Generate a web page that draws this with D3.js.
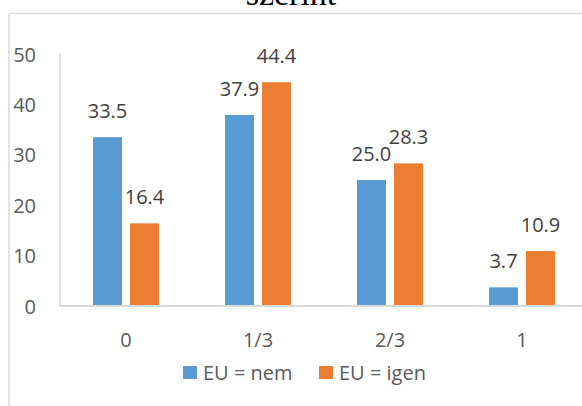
<!DOCTYPE html>
<html>
<head>
<meta charset="utf-8">
<script src="https://cdn.jsdelivr.net/npm/d3@7/dist/d3.min.js"></script>
<style>
  html, body { margin: 0; padding: 0; background: #fff; }
  svg { display: block; }
  text { font-family: "Open Sans", "Noto Sans", sans-serif; }
</style>
</head>
<body>
<svg id="chart" width="582" height="406"></svg>
<script>
// Categories along the x axis
const categories = ["0", "1/3", "2/3", "1"];
// Series
const seriesNames = ["EU = nem", "EU = igen"];
const seriesColors = ["#5B9BD5", "#ED7D31"];
const euNem = [33.5, 37.9, 25.0, 3.7];
const euIgen = [16.4, 44.4, 28.3, 10.9];
// Y axis ticks
const yTicks = [0, 10, 20, 30, 40, 50];
const titleText = "szerint";

const svg = d3.select("#chart");
const W = 582, H = 406;

// Chart frame (only top and left edges fall inside the view)
svg.append("line").attr("x1", 9).attr("x2", W).attr("y1", 13.5).attr("y2", 13.5)
  .attr("stroke", "#d9d9d9").attr("stroke-width", 1.5);
svg.append("line").attr("x1", 9).attr("x2", 9).attr("y1", 13.5).attr("y2", H)
  .attr("stroke", "#d9d9d9").attr("stroke-width", 1.5);

// Title, mostly above the top edge
svg.append("text").attr("x", 291).attr("y", 5)
  .attr("text-anchor", "middle")
  .style("font-family", "'Liberation Serif', 'DejaVu Serif', serif")
  .style("font-size", "34px").attr("fill", "#000")
  .text(titleText);

const plotLeft = 60, plotBottom = 306;
const y = d3.scaleLinear().domain([0, 50]).range([plotBottom, 54]);
const x0 = d3.scaleBand().domain(categories).range([plotLeft, plotLeft + 4 * 132]).paddingInner(0).paddingOuter(0);
const groupW = 66;
const x1 = d3.scaleBand().domain(seriesNames).range([0, groupW]).paddingInner(2 - groupW / 37).paddingOuter(0);

const seriesValues = [euNem, euIgen];

// Bars with value labels
seriesValues.forEach((vals, si) => {
  const g = svg.append("g");
  const bx = (i) => x0(categories[i]) + (x0.bandwidth() - groupW) / 2 + x1(seriesNames[si]);
  g.selectAll("rect").data(vals).join("rect")
    .attr("x", (d, i) => bx(i))
    .attr("y", d => y(d))
    .attr("width", x1.bandwidth())
    .attr("height", d => y(0) - y(d))
    .attr("fill", seriesColors[si]);
  g.selectAll("text").data(vals).join("text")
    .attr("x", (d, i) => bx(i) + x1.bandwidth() / 2)
    .attr("y", d => y(d) - 19)
    .attr("text-anchor", "middle")
    .style("font-size", "20px").attr("fill", "#404040")
    .text(d => d.toFixed(1));
});

// Y axis
const yAxis = d3.axisLeft(y).tickValues(yTicks).tickSize(0).tickPadding(24);
const gy = svg.append("g").attr("transform", `translate(${plotLeft},0)`).call(yAxis);
gy.select(".domain").attr("stroke", "#d9d9d9").attr("stroke-width", 1.5)
  .attr("d", `M0,${y(50) - 1}V${plotBottom}`);
gy.selectAll(".tick text").style("font-size", "20px").attr("fill", "#595959")
  .style("font-family", "'Open Sans', 'Noto Sans', sans-serif").attr("dy", "0.35em");

// X axis
const xAxis = d3.axisBottom(x0).tickSize(0).tickPadding(41);
const gx = svg.append("g").attr("transform", `translate(0,${plotBottom})`).call(xAxis);
gx.select(".domain").attr("stroke", "#d9d9d9").attr("stroke-width", 2)
  .attr("d", `M${plotLeft},0H${W}`);
gx.selectAll(".tick text").style("font-size", "20px").attr("fill", "#595959")
  .style("font-family", "'Open Sans', 'Noto Sans', sans-serif").attr("dy", "0");

// Legend
const legendX = [183, 319];
const lg = svg.append("g");
seriesNames.forEach((name, i) => {
  lg.append("rect").attr("x", legendX[i]).attr("y", 366).attr("width", 14).attr("height", 13)
    .attr("fill", seriesColors[i]);
  lg.append("text").attr("x", legendX[i] + 20).attr("y", 380)
    .style("font-size", "20px").attr("fill", "#595959").text(name);
});
</script>
</body>
</html>
